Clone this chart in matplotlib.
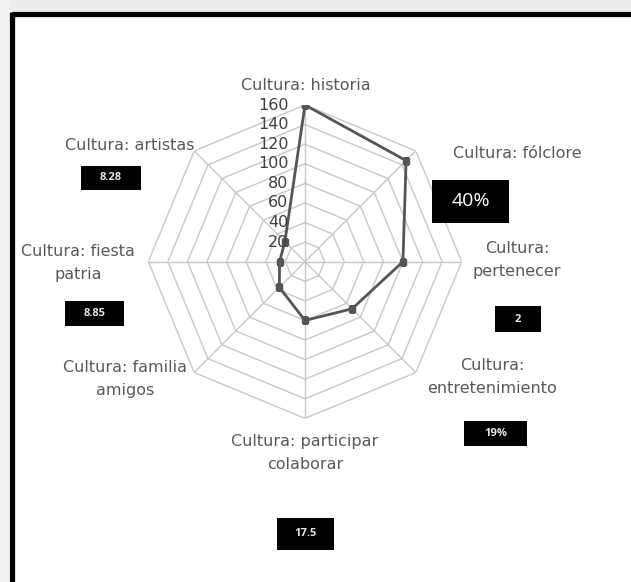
import numpy as np
import matplotlib
matplotlib.use("Agg")
import matplotlib.pyplot as plt
from matplotlib.patches import Rectangle
from matplotlib.lines import Line2D

categorias = ["Cultura: historia", "Cultura: fólclore", "Cultura:\npertenecer",
              "Cultura:\nentretenimiento", "Cultura: participar\ncolaborar",
              "Cultura: familia\namigos", "Cultura: fiesta\npatria", "Cultura: artistas"]
valores = [160, 146, 100, 68, 60, 37, 26, 29]
niveles = [20, 40, 60, 80, 100, 120, 140, 160]
cajas = ["40%", "2", "19%", "17.5", "8.85", "8.28"]

W, H = 631, 582
plt.rcParams['font.family'] = ['DejaVu Sans']

fig = plt.figure(figsize=(W / 100, H / 100), dpi=100)
fig.patch.set_facecolor("white")

def fx(x):
    return x / W

def fy(y):
    return 1 - y / H

# marco (sombra gris arriba, lineas negras arriba e izquierda)
fig.patches.append(Rectangle((0, fy(11)), 1, 11 / H, transform=fig.transFigure,
                             facecolor="#ededed", edgecolor="none"))
fig.patches.append(Rectangle((0, 0), fx(9), 1, transform=fig.transFigure,
                             facecolor="#f3f3f3", edgecolor="none"))
fig.lines.append(Line2D([fx(11.5), 1], [fy(13.5), fy(13.5)], transform=fig.transFigure,
                        color="black", lw=3.8, solid_capstyle="butt"))
fig.lines.append(Line2D([fx(11.5), fx(11.5)], [0, fy(11.6)], transform=fig.transFigure,
                        color="black", lw=3.8, solid_capstyle="butt"))

# radar
cx, cy, R = 305, 261.7, 156.7
ax = fig.add_axes([fx(cx - R), fy(cy + R), 2 * R / W, 2 * R / H], projection="polar")
ax.set_theta_offset(np.pi / 2)
ax.set_theta_direction(-1)
ax.set_ylim(0, 160)
ax.grid(False)
ax.spines["polar"].set_visible(False)
ax.set_xticks([])
ax.set_yticks([])
ax.patch.set_alpha(0)

n = len(categorias)
ang = np.arange(n) * 2 * np.pi / n
ang_c = np.append(ang, ang[0])
for v in niveles:
    ax.plot(ang_c, [v] * (n + 1), color="#c8c8c8", lw=1.0, zorder=1)
for a in ang:
    ax.plot([a, a], [0, 160], color="#c8c8c8", lw=1.0, zorder=1)

vals_c = valores + valores[:1]
ax.plot(ang_c, vals_c, color="#555555", lw=2.0, marker="s", markersize=5,
        markerfacecolor="#555555", zorder=3)

for v in niveles:
    ax.annotate(str(v), xy=(0, v), xytext=(-12, 0), textcoords="offset points",
                ha="right", va="center", fontsize=11.5, color="#404040", zorder=4)

# etiquetas de categorias (posiciones en pixeles)
pos_cat = [(306, 85), (517, 154), (517, 260), (492, 377), (305, 453),
           (125, 379), (78, 263), (130, 145)]
for txt, (x, y) in zip(categorias, pos_cat):
    fig.text(fx(x), fy(y), txt, ha="center", va="center", fontsize=11.5,
             color="#595959", linespacing=1.7)

# cajas negras
pos_caja = [(432, 180, 509, 223), (495, 306, 541, 332), (464, 421, 527, 446),
            (277, 518, 334, 550), (65, 301, 124, 326), (81, 166, 141, 190)]
tam = [14, 8, 8, 8, 8, 8]
for txt, (x0, y0, x1, y1), s in zip(cajas, pos_caja, tam):
    fig.patches.append(Rectangle((fx(x0), fy(y1)), fx(x1 - x0), (y1 - y0) / H,
                                 transform=fig.transFigure, facecolor="black",
                                 edgecolor="none"))
    fig.text(fx((x0 + x1) / 2), fy((y0 + y1) / 2), txt, ha="center", va="center",
             fontsize=s, color="white" if s >= 10 else "#e6e6e6",
             fontweight="normal" if s >= 10 else "bold",
             family=["Open Sans", "DejaVu Sans"])

fig.savefig("out.png", dpi=100)
